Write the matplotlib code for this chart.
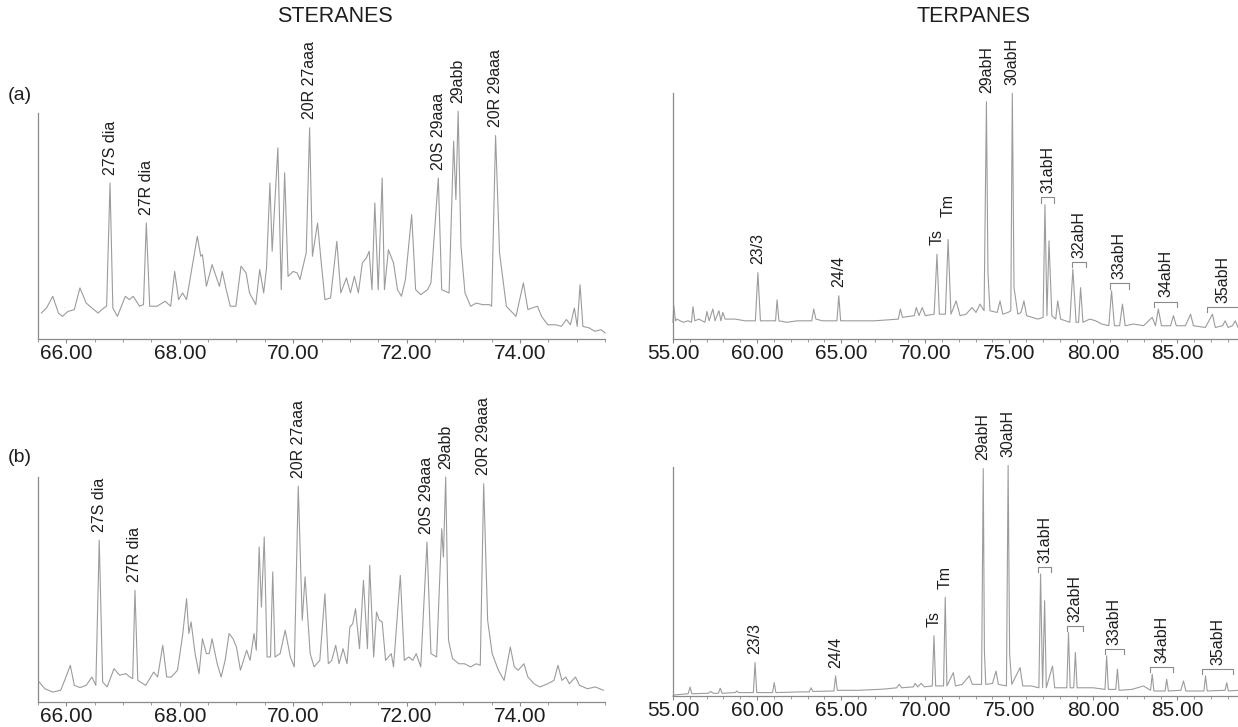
import numpy as np
import matplotlib
matplotlib.use("Agg")
import matplotlib.pyplot as plt

plt.rcParams['font.family'] = ['Liberation Sans', 'DejaVu Sans']

# ---- steranes (m/z 217) traces: retention time (min), relative abundance ----
ster_a_rt = [65.56, 65.65, 65.76, 65.86, 65.93, 66.03, 66.14, 66.24, 66.35, 66.45, 66.56, 66.66, 66.71, 66.77, 66.82,
             66.90, 67.04, 67.11, 67.18, 67.29, 67.36, 67.41, 67.47, 67.60, 67.74, 67.84, 67.91, 67.98, 68.05, 68.12,
             68.24, 68.31, 68.37, 68.40, 68.47, 68.57, 68.64, 68.70, 68.75, 68.82, 68.89, 68.99, 69.08, 69.17, 69.23,
             69.34, 69.41, 69.48, 69.53, 69.59, 69.63, 69.73, 69.79, 69.85, 69.91, 70.00, 70.07, 70.12, 70.23, 70.29,
             70.34, 70.43, 70.49, 70.56, 70.66, 70.77, 70.84, 70.94, 71.01, 71.08, 71.15, 71.22, 71.29, 71.34, 71.39,
             71.44, 71.50, 71.57, 71.61, 71.68, 71.77, 71.84, 71.91, 71.98, 72.09, 72.16, 72.25, 72.37, 72.43, 72.56,
             72.62, 72.75, 72.83, 72.87, 72.91, 72.96, 73.03, 73.13, 73.23, 73.34, 73.46, 73.50, 73.57, 73.64, 73.76,
             73.93, 74.06, 74.14, 74.21, 74.31, 74.38, 74.49, 74.63, 74.73, 74.82, 74.89, 74.96, 75.01, 75.06, 75.11,
             75.22, 75.32, 75.43, 75.50]
ster_a_ab = [11.5, 13.7, 18.9, 11.5, 10.0, 12.2, 13.0, 22.6, 15.9, 13.7, 11.5, 13.7, 14.5, 69.0, 13.7,
             10.0, 18.9, 17.4, 18.9, 14.5, 15.2, 51.3, 14.5, 14.5, 16.7, 14.5, 29.9, 17.4, 20.4, 17.4,
             35.1, 45.4, 36.6, 37.3, 23.3, 32.9, 27.7, 23.3, 29.9, 21.8, 14.5, 14.5, 32.2, 29.2, 20.4,
             15.2, 30.7, 20.4, 31.4, 69.0, 38.8, 84.5, 21.8, 73.5, 27.7, 29.9, 29.2, 26.3, 38.1, 93.4,
             36.6, 51.3, 35.1, 17.4, 18.2, 43.2, 20.4, 27.0, 20.4, 27.7, 20.4, 33.6, 35.8, 38.8, 21.8,
             60.2, 21.8, 71.2, 21.8, 39.5, 33.6, 21.8, 18.9, 26.3, 55.0, 21.8, 19.6, 21.8, 24.8, 71.2,
             21.8, 20.4, 87.5, 61.7, 100.7, 41.0, 20.4, 14.5, 15.9, 15.2, 15.2, 14.5, 90.0, 38.1, 14.5,
             10.0, 24.8, 13.0, 13.7, 14.5, 10.0, 6.3, 6.3, 5.6, 8.6, 6.3, 13.7, 5.6, 24.0, 5.6,
             4.9, 3.4, 4.1, 2.7]

ster_b_rt = [65.52, 65.62, 65.76, 65.90, 65.97, 66.07, 66.14, 66.24, 66.35, 66.45, 66.52, 66.58, 66.64, 66.72, 66.84,
             66.94, 67.05, 67.12, 67.17, 67.21, 67.26, 67.40, 67.54, 67.61, 67.70, 67.77, 67.85, 67.96, 68.05, 68.12,
             68.16, 68.20, 68.27, 68.34, 68.40, 68.47, 68.52, 68.57, 68.66, 68.73, 68.80, 68.87, 68.94, 69.00, 69.07,
             69.18, 69.24, 69.31, 69.35, 69.40, 69.44, 69.49, 69.54, 69.60, 69.64, 69.68, 69.77, 69.86, 69.95, 70.02,
             70.09, 70.16, 70.21, 70.30, 70.37, 70.47, 70.56, 70.62, 70.68, 70.75, 70.81, 70.88, 70.95, 71.00, 71.05,
             71.10, 71.17, 71.24, 71.31, 71.35, 71.42, 71.47, 71.52, 71.57, 71.63, 71.73, 71.77, 71.89, 71.96, 72.04,
             72.11, 72.17, 72.25, 72.36, 72.43, 72.53, 72.62, 72.65, 72.69, 72.74, 72.81, 72.92, 73.02, 73.13, 73.23,
             73.30, 73.36, 73.43, 73.51, 73.62, 73.72, 73.83, 73.90, 73.97, 74.07, 74.14, 74.25, 74.35, 74.49, 74.60,
             74.67, 74.74, 74.81, 74.87, 74.98, 75.05, 75.19, 75.33, 75.47]
ster_b_ab = [8.9, 5.9, 4.4, 5.2, 9.6, 16.3, 7.4, 6.4, 7.4, 11.1, 7.4, 71.9, 8.9, 6.7, 14.8,
             11.9, 12.6, 11.1, 10.4, 49.6, 9.6, 7.4, 13.3, 11.1, 25.2, 11.1, 11.1, 14.1, 29.6, 45.9,
             30.4, 35.6, 21.5, 12.6, 28.1, 21.5, 21.5, 28.1, 17.0, 11.1, 18.5, 30.4, 28.1, 24.4, 14.1,
             23.0, 18.5, 30.4, 23.0, 68.9, 42.2, 73.3, 20.0, 20.0, 57.8, 20.0, 21.5, 31.9, 20.0, 15.6,
             95.9, 36.3, 55.6, 21.5, 15.6, 18.5, 48.1, 17.0, 18.5, 25.2, 17.0, 23.7, 17.0, 33.3, 34.8,
             41.5, 23.7, 54.1, 23.7, 60.7, 20.0, 40.0, 36.3, 35.6, 18.5, 21.5, 15.6, 56.3, 18.5, 20.0,
             18.5, 21.5, 15.6, 71.1, 21.5, 20.0, 77.0, 64.4, 100.0, 27.4, 19.3, 17.0, 17.0, 15.6, 17.0,
             16.3, 97.0, 36.3, 21.5, 14.1, 9.6, 24.4, 15.6, 14.1, 17.0, 11.1, 8.1, 6.7, 8.1, 9.6,
             16.3, 9.6, 11.1, 8.1, 11.1, 7.4, 5.9, 6.7, 5.2]

# ---- terpanes (m/z 191) traces ----
terp_a_rt = [55.00, 55.05, 55.15, 55.24, 55.60, 55.90, 56.10, 56.19, 56.30, 56.54, 56.90, 57.02, 57.15, 57.37, 57.50,
             57.73, 57.85, 57.96, 58.10, 58.68, 59.30, 59.90, 60.05, 60.20, 60.60, 61.10, 61.19, 61.30, 61.76, 62.40,
             63.25, 63.37, 63.50, 63.89, 64.75, 64.86, 64.97, 66.03, 66.98, 68.40, 68.52, 68.65, 69.35, 69.47, 69.63,
             69.82, 70.01, 70.53, 70.70, 70.84, 71.20, 71.36, 71.53, 71.84, 72.07, 72.43, 72.78, 73.02, 73.26, 73.50,
             73.64, 73.73, 73.85, 74.28, 74.45, 74.61, 74.92, 75.09, 75.18, 75.28, 75.51, 75.70, 75.87, 76.03, 76.70,
             77.01, 77.12, 77.24, 77.36, 77.53, 77.76, 77.88, 78.05, 78.60, 78.78, 78.97, 79.12, 79.24, 79.38, 79.78,
             80.14, 80.49, 80.92, 81.08, 81.25, 81.56, 81.73, 81.89, 82.39, 82.98, 83.50, 83.69, 83.86, 84.05, 84.59,
             84.76, 84.93, 85.47, 85.78, 85.95, 86.66, 87.08, 87.25, 87.68, 87.84, 88.01, 88.27, 88.44, 88.60]
terp_a_ab = [6.8, 13.5, 7.4, 8.1, 6.8, 7.4, 6.8, 13.2, 7.4, 8.1, 6.8, 11.2, 7.4, 12.2, 7.4,
             11.5, 7.4, 10.8, 8.1, 8.1, 7.4, 7.4, 27.0, 7.4, 7.4, 7.4, 15.9, 7.4, 6.8, 7.4,
             7.4, 12.2, 8.1, 7.4, 7.4, 17.6, 7.4, 7.4, 7.4, 8.1, 12.2, 8.8, 9.5, 12.8, 9.5,
             12.8, 9.5, 10.1, 34.5, 10.1, 10.1, 40.5, 10.1, 15.5, 9.5, 10.1, 12.8, 10.8, 14.2, 11.5,
             96.6, 27.0, 11.5, 10.8, 15.5, 10.1, 10.8, 11.5, 100.0, 20.9, 10.1, 10.8, 15.5, 9.5, 8.1,
             8.8, 54.7, 9.5, 39.9, 9.5, 8.1, 15.5, 8.1, 6.8, 28.4, 6.8, 6.8, 20.9, 6.8, 8.1,
             7.4, 6.1, 5.4, 19.6, 5.4, 5.4, 14.2, 5.4, 6.1, 5.4, 8.8, 5.4, 12.2, 5.4, 5.4,
             9.5, 5.4, 5.4, 10.1, 5.4, 4.7, 10.1, 4.7, 5.4, 7.4, 4.7, 5.4, 7.4, 4.7]

terp_b_rt = [55.00, 55.10, 55.90, 56.02, 56.12, 57.10, 57.25, 57.40, 57.70, 57.81, 57.92, 58.70, 58.80, 58.90, 59.78,
             59.88, 59.98, 60.92, 61.02, 61.12, 62.50, 63.10, 63.21, 63.32, 64.57, 64.67, 64.77, 66.00, 67.50, 68.30,
             68.45, 68.60, 69.30, 69.40, 69.55, 69.76, 69.95, 70.42, 70.52, 70.62, 71.09, 71.19, 71.29, 71.67, 71.80,
             72.20, 72.62, 72.80, 73.35, 73.45, 73.52, 73.60, 74.00, 74.21, 74.35, 74.83, 74.93, 75.02, 75.15, 75.64,
             75.80, 76.30, 76.76, 76.86, 76.98, 77.10, 77.20, 77.57, 77.70, 78.42, 78.52, 78.62, 78.83, 78.93, 79.03,
             80.00, 80.69, 80.79, 80.89, 81.33, 81.43, 81.53, 82.30, 82.98, 83.40, 83.50, 83.60, 84.26, 84.36, 84.46,
             85.20, 85.36, 85.50, 86.57, 86.67, 86.77, 87.83, 87.93, 88.03, 88.60]
terp_b_ab = [0.0, 0.5, 1.0, 3.9, 1.0, 1.2, 2.0, 1.2, 1.2, 3.4, 1.2, 1.5, 2.2, 1.5, 1.5,
             14.6, 1.5, 1.5, 5.8, 1.5, 1.8, 1.8, 3.6, 2.0, 2.2, 8.8, 2.5, 2.5, 3.0, 3.6,
             5.1, 3.6, 4.0, 5.5, 4.0, 5.5, 4.0, 4.4, 26.3, 4.4, 4.4, 43.1, 4.4, 10.2, 4.4,
             5.1, 8.8, 5.1, 5.1, 99.3, 19.7, 5.1, 5.5, 10.9, 5.1, 4.4, 100.7, 18.2, 5.1, 12.4,
             4.4, 4.4, 3.6, 53.3, 3.6, 41.6, 3.6, 13.1, 3.6, 3.6, 27.7, 3.6, 3.6, 19.0, 3.6,
             3.6, 2.9, 17.5, 2.9, 2.9, 11.7, 2.5, 2.9, 4.4, 2.5, 9.5, 2.2, 2.2, 7.3, 2.2,
             2.5, 6.6, 2.2, 2.2, 8.8, 2.2, 2.5, 5.8, 2.2, 2.5]

# ---- peak identifications ----
ster_names = ['27S dia', '27R dia', '20R 27aaa', '20S 29aaa', '29abb', '20R 29aaa']
ster_a_peaks = [66.77, 67.41, 70.29, 72.56, 72.91, 73.57]
ster_b_peaks = [66.58, 67.21, 70.09, 72.36, 72.69, 73.36]

terp_names = ['23/3', '24/4', 'Ts', 'Tm', '29abH', '30abH']
terp_a_peaks = [60.05, 64.86, 70.70, 71.36, 73.64, 75.18]
terp_b_peaks = [59.88, 64.67, 70.52, 71.19, 73.45, 74.93]

homo_names = ['31abH', '32abH', '33abH', '34abH', '35abH']
homo_a_start = [76.89, 78.71, 80.97, 83.62, 86.78]
homo_a_end = [77.65, 79.54, 82.10, 85.00, 88.67]
homo_b_start = [76.71, 78.45, 80.67, 83.36, 86.43]
homo_b_end = [77.50, 79.36, 81.83, 84.76, 88.33]

line_col = '#9c9c9c'
axis_col = '#8a8a8a'
text_col = '#1e1e1e'

fig = plt.figure(figsize=(12.38, 7.27), dpi=100)


def setup(ax, xlim, major, minor):
    ax.set_xlim(*xlim)
    ax.set_ylim(0, 100)
    for s in ['top', 'right']:
        ax.spines[s].set_visible(False)
    for s in ['left', 'bottom']:
        ax.spines[s].set_color(axis_col)
        ax.spines[s].set_linewidth(0.9)
    ax.set_yticks([])
    ax.set_xticks(major)
    ax.set_xticks(minor, minor=True)
    ax.set_xticklabels(['%.2f' % t for t in major])
    ax.tick_params(axis='x', which='both', direction='out', colors=axis_col,
                   labelcolor=text_col, labelsize=15, pad=0.5)
    ax.tick_params(axis='x', which='major', length=3, width=0.8)
    ax.tick_params(axis='x', which='minor', length=2.5, width=0.6)


def peak_top(rt, ab, x):
    rt = np.array(rt)
    ab = np.array(ab)
    return ab[np.abs(rt - x) < 0.06].max()


def label_peaks(ax, rt, ab, names, peaks, gaps=None):
    if gaps is None:
        gaps = [6] * len(names)
    for n, p, g in zip(names, peaks, gaps):
        ax.annotate(n, xy=(p, peak_top(rt, ab, p)), xytext=(0, g), textcoords='offset points',
                    rotation=90, ha='center', va='bottom', fontsize=11.5, color=text_col,
                    annotation_clip=False)


def brackets(ax, rt, ab, names, starts, ends):
    rta = np.array(rt)
    aba = np.array(ab)
    for n, s, e in zip(names, starts, ends):
        top = aba[(rta >= s) & (rta <= e)].max() + 3.0
        ax.plot([s, s, e, e], [top - 2.2, top, top, top - 2.2], color=axis_col, lw=0.8, clip_on=False)
        ax.annotate(n, xy=((s + e) / 2, top), xytext=(0, 3), textcoords='offset points',
                    rotation=90, ha='center', va='bottom', fontsize=11.5, color=text_col,
                    annotation_clip=False)


ster_major = [66, 68, 70, 72, 74]
ster_minor = np.arange(65.5, 75.51, 0.5)
terp_major = [55, 60, 65, 70, 75, 80, 85]
terp_minor = np.arange(55, 88.6, 1.0)

# (a) steranes
ax1 = fig.add_axes([0.0307, 0.5337, 0.458, 0.311])
setup(ax1, (65.53, 75.5), ster_major, ster_minor)
ax1.plot(ster_a_rt, ster_a_ab, color=line_col, lw=0.8, clip_on=False)
label_peaks(ax1, ster_a_rt, ster_a_ab, ster_names, ster_a_peaks)

# (a) terpanes
ax2 = fig.add_axes([0.5436, 0.5337, 0.4564, 0.338])
setup(ax2, (55, 88.6), terp_major, terp_minor)
ax2.plot(terp_a_rt, terp_a_ab, color=line_col, lw=0.8, clip_on=False)
label_peaks(ax2, terp_a_rt, terp_a_ab, terp_names, terp_a_peaks, gaps=[6, 6, 7, 16, 6, 6])
brackets(ax2, terp_a_rt, terp_a_ab, homo_names, homo_a_start, homo_a_end)

# (b) steranes
ax3 = fig.add_axes([0.0307, 0.0344, 0.458, 0.3095])
setup(ax3, (65.53, 75.5), ster_major, ster_minor)
ax3.plot(ster_b_rt, ster_b_ab, color=line_col, lw=0.8, clip_on=False)
label_peaks(ax3, ster_b_rt, ster_b_ab, ster_names, ster_b_peaks)

# (b) terpanes
ax4 = fig.add_axes([0.5436, 0.0426, 0.4564, 0.315])
setup(ax4, (55, 88.6), terp_major, terp_minor)
ax4.plot(terp_b_rt, terp_b_ab, color=line_col, lw=0.8, clip_on=False)
label_peaks(ax4, terp_b_rt, terp_b_ab, terp_names, terp_b_peaks)
brackets(ax4, terp_b_rt, terp_b_ab, homo_names, homo_b_start, homo_b_end)

fig.text(0.2706, 0.977, 'STERANES', ha='center', va='center', fontsize=15.5, color=text_col)
fig.text(0.786, 0.977, 'TERPANES', ha='center', va='center', fontsize=15.5, color=text_col)
fig.text(0.006, 0.868, '(a)', ha='left', va='center', fontsize=14, color=text_col)
fig.text(0.006, 0.371, '(b)', ha='left', va='center', fontsize=14, color=text_col)

fig.savefig('out.png', dpi=100)
